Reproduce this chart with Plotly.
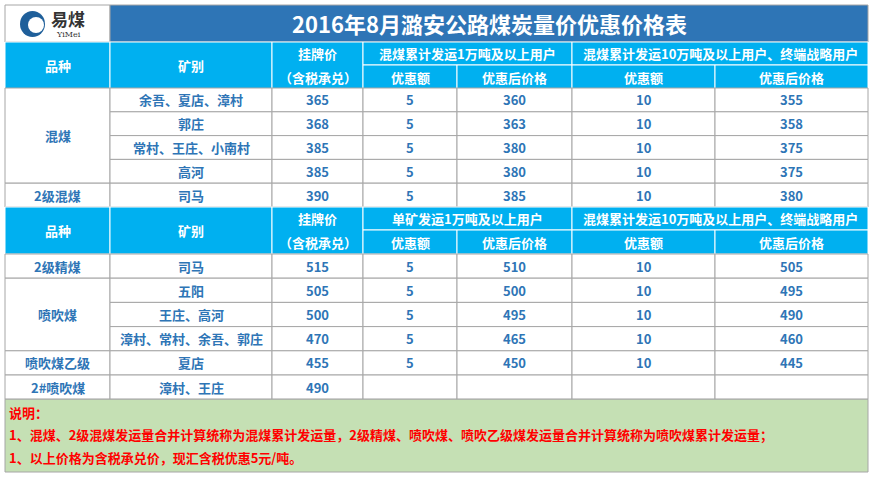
import plotly.graph_objects as go

title = "2016年8月潞安公路煤炭量价优惠价格表"
varieties1 = ["混煤", "2级混煤"]
mines1 = ["余吾、夏店、漳村", "郭庄", "常村、王庄、小南村", "高河", "司马"]
price1 = [365, 368, 385, 385, 390]
disc1a = [5, 5, 5, 5, 5]
after1a = [360, 363, 380, 380, 385]
disc1b = [10, 10, 10, 10, 10]
after1b = [355, 358, 375, 375, 380]

varieties2 = ["2级精煤", "喷吹煤", "喷吹煤乙级", "2#喷吹煤"]
mines2 = ["司马", "五阳", "王庄、高河", "漳村、常村、余吾、郭庄", "夏店", "漳村、王庄"]
price2 = [515, 505, 500, 470, 455, 490]
disc2a = [5, 5, 5, 5, 5, None]
after2a = [510, 500, 495, 465, 450, None]
disc2b = [10, 10, 10, 10, 10, None]
after2b = [505, 495, 490, 460, 445, None]

header_a = ["品种", "矿别", "挂牌价", "（含税承兑）", "优惠额", "优惠后价格"]
group1 = ["混煤累计发运1万吨及以上用户", "混煤累计发运10万吨及以上用户、终端战略用户"]
group2 = ["单矿发运1万吨及以上用户", "混煤累计发运10万吨及以上用户、终端战略用户"]
notes = ["说明：",
         "1、混煤、2级混煤发运量合并计算统称为混煤累计发运量，2级精煤、喷吹煤、喷吹乙级煤发运量合并计算统称为喷吹煤累计发运量；",
         "1、以上价格为含税承兑价，现汇含税优惠5元/吨。"]

X = [5, 110, 272, 363, 457, 572, 715, 868]
FONT = "Noto Sans CJK SC"
BLUE = "#2e75b6"
CYAN = "#00b0f0"
GRID = "#a6a6a6"

shapes, ann = [], []

def rect(x0, y0, x1, y1, fill, line=GRID, w=1):
    shapes.append(dict(type="rect", x0=x0, y0=y0, x1=x1, y1=y1, fillcolor=fill,
                       line=dict(color=line, width=w), layer="below"))

def text(x, y, s, color=BLUE, size=13, xa="center"):
    ann.append(dict(x=x, y=y, text="<b>%s</b>" % s, showarrow=False, xanchor=xa,
                    font=dict(family=FONT, size=size, color=color)))

def cell(c0, c1, y0, y1, s, fill="white", color=BLUE, line=GRID, size=13):
    rect(X[c0], y0, X[c1], y1, fill, line)
    if s is not None:
        text((X[c0] + X[c1]) / 2, (y0 + y1) / 2, s, color, size)

# title
rect(5, 5, 110, 42, "white")
rect(110, 5, 868, 42, BLUE, GRID)
text(489, 23, title, "white", 22)
shapes.append(dict(type="circle", x0=20, y0=11, x1=45, y1=37, fillcolor="#1f5f9a", line=dict(width=0)))
shapes.append(dict(type="circle", x0=28, y0=17, x1=44, y1=33, fillcolor="white", line=dict(width=0)))
text(68, 18, "易煤", "#333333", 17)
ann.append(dict(x=68, y=34, text="YiMei", showarrow=False, font=dict(family="DejaVu Serif", size=8, color="#333")))

def header(y0, groups):
    ym = y0 + 23
    y1 = y0 + 47
    cell(0, 1, y0, y1, header_a[0], CYAN, "white", "white")
    cell(1, 2, y0, y1, header_a[1], CYAN, "white", "white")
    rect(X[2], y0, X[3], y1, CYAN, "white")
    text((X[2] + X[3]) / 2, y0 + 11.5, header_a[2], "white")
    text((X[2] + X[3]) / 2, ym + 12, header_a[3], "white")
    cell(3, 5, y0, ym, groups[0], CYAN, "white", "white")
    cell(5, 7, y0, ym, groups[1], CYAN, "white", "white")
    for c, s in zip([3, 4, 5, 6], [header_a[4], header_a[5], header_a[4], header_a[5]]):
        cell(c, c + 1, ym, y1, s, CYAN, "white", "white")

def fmt(v):
    return "" if v is None else str(v)

header(42, group1)
rows1 = [88 + i * 23.8 for i in range(6)]
cell(0, 1, rows1[0], rows1[4], varieties1[0])
cell(0, 1, rows1[4], rows1[5], varieties1[1])
for i in range(5):
    y0, y1 = rows1[i], rows1[i + 1]
    for c, v in enumerate([mines1[i], price1[i], disc1a[i], after1a[i], disc1b[i], after1b[i]]):
        cell(c + 1, c + 2, y0, y1, fmt(v))

header(207, group2)
rows2 = [254 + i * 24.2 for i in range(7)]
cell(0, 1, rows2[0], rows2[1], varieties2[0])
cell(0, 1, rows2[1], rows2[4], varieties2[1])
cell(0, 1, rows2[4], rows2[5], varieties2[2])
cell(0, 1, rows2[5], rows2[6], varieties2[3])
for i in range(6):
    y0, y1 = rows2[i], rows2[i + 1]
    for c, v in enumerate([mines2[i], price2[i], disc2a[i], after2a[i], disc2b[i], after2b[i]]):
        cell(c + 1, c + 2, y0, y1, fmt(v))

rect(5, rows2[6], 868, 472, "#c5e0b4")
for k, s in enumerate(notes):
    text(7, rows2[6] + 13 + k * 22.5, s, "#ff0000", 13, "left")

fig = go.Figure()
fig.update_layout(width=872, height=479, margin=dict(l=0, r=0, t=0, b=0),
                  plot_bgcolor="white", paper_bgcolor="white",
                  xaxis=dict(range=[0, 872], visible=False, fixedrange=True),
                  yaxis=dict(range=[479, 0], visible=False, fixedrange=True),
                  shapes=shapes, annotations=ann, showlegend=False)
fig.write_html("out.html", config={"displayModeBar": False},
               post_script="document.body.style.margin='0';document.body.style.overflow='hidden';")
